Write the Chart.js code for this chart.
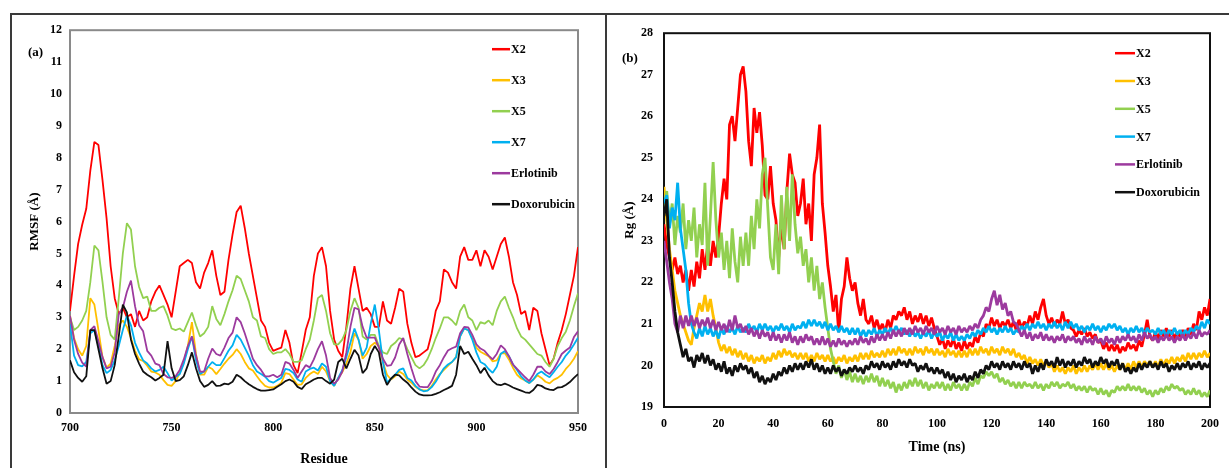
<!DOCTYPE html>
<html>
<head>
<meta charset="utf-8">
<script src="https://cdn.jsdelivr.net/npm/chart.js@4.4.1/dist/chart.umd.min.js"></script>
<style>
  html, body { margin: 0; padding: 0; background: #fff; }
  body { width: 1229px; height: 468px; position: relative; overflow: hidden; }
  .frame { position: absolute; left: 10px; top: 13px; width: 1240px; height: 470px; border-top: 2px solid #3a3a3a; border-left: 2px solid #3a3a3a; }
  .divider { position: absolute; left: 605px; top: 13px; height: 470px; border-left: 2px solid #3a3a3a; }
  canvas { position: absolute; top: 15px; }
  #rmsfChart { left: 12px; }
  #rgChart { left: 607px; }
</style>
</head>
<body>
<div class="frame"></div>
<div class="divider"></div>
<canvas id="rmsfChart" width="593" height="453"></canvas>
<canvas id="rgChart" width="622" height="453"></canvas>
<script>
// series names and colours (same in both panels)
const seriesNames = ['X2', 'X3', 'X5', 'X7', 'Erlotinib', 'Doxorubicin'];
const seriesColors = ['#ff0000', '#ffc000', '#92d050', '#00b0f0', '#9c3a9e', '#111111'];

// (a) RMSF per residue, residues 700..950 every 2
const residueStart = 700, residueStep = 2;
const rmsfX2 = [
  3.2, 4.3, 5.3, 5.9, 6.4, 7.6, 8.5, 8.4, 7.3, 6.1,
  4.6, 3.6, 3.1, 3.3, 3.0, 3.1, 2.7, 3.2, 2.9, 3.0,
  3.5, 3.8, 4.0, 3.7, 3.4, 3.0, 3.8, 4.6, 4.7, 4.8,
  4.7, 4.1, 3.9, 4.4, 4.7, 5.1, 4.3, 3.7, 3.8, 4.8,
  5.6, 6.3, 6.5, 5.8, 5.0, 4.3, 3.6, 2.9, 2.7, 2.2,
  1.95, 2.0, 2.05, 2.6, 2.2, 1.5, 1.25, 1.9, 2.6, 3.0,
  4.3, 5.0, 5.2, 4.6, 3.2, 2.3, 1.95, 1.75, 2.7, 3.9,
  4.6, 3.9, 3.2, 3.3, 3.1, 2.7, 2.7, 3.5, 2.9, 2.8,
  3.3, 3.9, 3.8, 2.8, 2.2, 1.75, 1.8, 1.9, 2.0, 2.5,
  3.2, 3.5, 4.5, 4.4, 4.1, 3.9, 4.9, 5.2, 4.8, 4.8,
  5.1, 4.6, 5.1, 4.9, 4.5, 4.9, 5.3, 5.5, 4.9, 4.1,
  3.7, 3.1, 3.2, 2.6, 3.3, 3.2, 2.5, 2.0, 1.5, 1.7,
  2.2, 2.6, 3.1, 3.7, 4.3, 5.2
];
const rmsfX3 = [
  3.05, 2.35, 2.0, 1.8, 2.1, 3.6, 3.4, 2.6, 1.75, 1.42,
  1.55, 2.1, 2.75, 2.9, 2.7, 2.35, 1.95, 1.68, 1.63, 1.48,
  1.3, 1.27, 1.2, 1.03, 0.88, 0.85, 1.0, 1.25, 1.6, 2.1,
  2.85, 1.85, 1.2, 1.2, 1.45, 1.38, 1.22, 1.38, 1.55, 1.7,
  1.82, 2.0, 1.85, 1.6, 1.4, 1.33, 1.15, 0.98, 0.85, 0.8,
  0.8, 0.85, 0.95, 1.25, 1.22, 1.05, 0.88, 0.9, 1.1, 1.22,
  1.3, 1.22, 1.45, 1.3, 1.0, 0.85, 1.1, 1.28, 1.55, 1.9,
  2.5, 2.3, 1.7, 1.85, 2.1, 2.2, 2.1, 1.6, 1.2, 1.05,
  1.15, 1.3, 1.22, 1.05, 0.95, 0.82, 0.74, 0.71, 0.71, 0.85,
  1.05, 1.22, 1.35, 1.48, 1.6, 1.75, 2.4, 2.65, 2.6, 2.35,
  2.05, 1.92, 1.85, 1.78, 1.62, 1.65, 1.86, 1.88, 1.68, 1.42,
  1.2, 1.08, 1.02, 0.94, 1.05, 1.18, 1.1, 0.98, 0.93, 1.04,
  1.1, 1.2, 1.38, 1.52, 1.7, 1.94
];
const rmsfX5 = [
  3.0, 2.6, 2.7, 2.9, 3.2, 4.1, 5.25, 5.1, 4.1, 3.0,
  2.45, 2.3, 3.6, 5.0, 5.95, 5.75, 4.6, 3.95, 3.6, 3.65,
  3.2, 3.2, 3.3, 3.35, 3.05, 2.65, 2.6, 2.65, 2.55, 2.85,
  3.15, 2.75, 2.4, 2.5, 2.7, 3.35, 2.95, 2.75, 3.1, 3.5,
  3.85, 4.3, 4.2, 3.85, 3.5, 3.0, 2.9, 2.4, 2.35, 2.0,
  1.85, 1.9, 1.9, 2.0, 1.85, 1.6, 1.6, 1.65, 2.0, 2.3,
  2.9, 3.6, 3.7, 3.2, 2.5, 2.15, 2.15, 2.3, 2.6, 3.2,
  3.6, 3.3, 2.4, 2.3, 2.45, 2.45, 2.1, 1.9, 1.85, 2.1,
  2.2, 2.35, 2.3, 2.0, 1.75, 1.5, 1.4, 1.5, 1.7, 2.0,
  2.35, 2.65, 3.0, 3.0, 2.9, 2.75, 3.2, 3.4, 3.0, 2.9,
  2.6, 2.85, 2.8, 2.9, 2.75, 3.2, 3.5, 3.65, 3.3, 3.0,
  2.65, 2.4, 2.3, 2.15, 2.0, 1.85, 1.8, 1.6, 1.45, 1.7,
  2.1, 2.35, 2.55, 2.9, 3.35, 3.75
];
const rmsfX7 = [
  2.8, 1.8, 1.5, 1.46, 1.6, 2.5, 2.6, 2.1, 1.5, 1.25,
  1.35, 1.65, 2.1, 2.6, 3.05, 2.75, 2.2, 1.9, 1.65, 1.55,
  1.4, 1.3, 1.35, 1.45, 1.25, 1.02, 1.13, 1.22, 1.55, 2.0,
  2.4, 1.65, 1.22, 1.3, 1.45, 1.6, 1.5, 1.5, 1.72, 1.95,
  2.12, 2.45, 2.3, 2.05, 1.8, 1.5, 1.3, 1.22, 1.14, 1.0,
  0.95, 1.03, 1.1, 1.38, 1.35, 1.25, 1.05, 0.98, 1.3, 1.38,
  1.42, 1.33, 1.55, 1.45, 1.0, 0.85, 1.1, 1.35, 1.75, 2.2,
  2.65, 2.3, 1.8, 2.05, 2.8, 3.4, 2.6, 1.6, 0.95, 1.08,
  1.2, 1.35, 1.4, 1.1, 1.02, 0.85, 0.74, 0.68, 0.7, 0.81,
  0.98, 1.2, 1.4, 1.52, 1.6, 1.75, 2.4, 2.65, 2.6, 2.3,
  1.9, 1.6, 1.53, 1.38, 1.26, 1.45, 1.86, 1.94, 1.78, 1.52,
  1.35, 1.15, 1.02, 0.94, 1.05, 1.22, 1.3, 1.2, 1.12, 1.28,
  1.45, 1.6, 1.8, 1.95, 2.15, 2.36
];
const rmsfErlotinib = [
  3.05, 2.3, 1.85, 1.58, 1.45, 2.6, 2.72, 2.25, 1.75, 1.4,
  1.45, 1.9, 3.1, 3.3, 3.8, 4.15, 3.35, 2.75, 2.56, 1.95,
  1.8, 1.55, 1.5, 1.22, 1.12, 1.1, 1.15, 1.35, 1.68, 2.1,
  2.4, 1.8, 1.3, 1.3, 1.7, 2.02, 1.85, 1.8, 2.05, 2.35,
  2.52, 3.0, 2.85, 2.5, 2.1, 1.7, 1.5, 1.35, 1.15, 1.15,
  1.2, 1.12, 1.2, 1.6, 1.55, 1.35, 1.1, 1.3, 1.5, 1.43,
  1.68, 2.0, 2.25, 1.8, 1.1, 0.92, 1.05, 1.3, 1.9, 2.7,
  3.3, 3.25, 2.7, 2.36, 2.36, 2.36, 2.05, 1.7, 1.48, 1.5,
  1.74, 2.15, 2.35, 1.85, 1.4, 1.0, 0.83, 0.81, 0.81, 1.0,
  1.3, 1.5, 1.75, 1.96, 2.03, 2.08, 2.5, 2.7, 2.68, 2.45,
  2.15, 2.02, 1.95, 1.8, 1.68, 1.85, 2.12, 2.0, 1.78, 1.52,
  1.38, 1.25, 1.12, 1.0, 1.2, 1.45, 1.45, 1.3, 1.22, 1.38,
  1.6, 1.85, 1.96, 2.05, 2.38, 2.56
];
const rmsfDoxorubicin = [
  1.65, 1.28, 1.1, 0.98, 1.15, 2.6, 2.6, 2.0, 1.4, 0.92,
  1.0, 1.5, 2.4, 3.4, 3.15, 2.3, 1.85, 1.55, 1.3, 1.2,
  1.12, 1.02, 1.1, 1.2, 2.25, 1.4, 1.0, 1.03, 1.15, 1.5,
  1.9, 1.4, 1.0, 0.82, 0.88, 1.0, 0.85, 0.86, 0.92, 0.9,
  0.98, 1.2, 1.12, 1.0, 0.9, 0.82, 0.75, 0.7, 0.7, 0.72,
  0.74, 0.82, 0.9, 1.0, 1.05, 0.98, 0.82, 0.75, 0.9, 0.97,
  1.05, 1.1, 1.1, 1.0, 0.92, 1.05, 1.6, 1.7, 1.4, 1.7,
  1.98, 1.8, 1.25, 1.4, 1.85, 2.1, 1.9, 1.2, 0.88, 1.08,
  1.2, 1.18, 1.05, 0.95, 0.8, 0.67, 0.58, 0.55, 0.55, 0.56,
  0.6, 0.65, 0.72, 0.78, 0.85, 1.2, 2.1, 1.85, 1.92, 1.7,
  1.5, 1.25, 1.42, 1.18, 1.0, 0.9, 0.87, 0.92, 0.87, 0.8,
  0.75, 0.7, 0.65, 0.63, 0.72, 0.88, 0.85, 0.77, 0.73, 0.72,
  0.8, 0.81, 0.88, 0.97, 1.1, 1.22
];

// (b) Rg over time, 0..200 ns every 1 ns
const timeStart = 0, timeStep = 1;
const rgX2 = [
  23.4, 22.9, 22.6, 22.3, 22.6, 22.2, 22.4, 22.0, 22.3, 21.8,
  22.3, 21.9, 22.5, 22.1, 22.8, 22.3, 22.9, 22.4, 23.0, 22.6,
  23.1, 23.9, 24.5, 24.0, 25.8, 26.0, 25.4, 26.2, 27.0, 27.2,
  26.6, 25.4, 24.8, 26.2, 25.6, 26.1, 25.3, 24.1, 24.0, 24.8,
  23.9, 23.5, 22.6, 23.4, 22.8, 24.2, 25.1, 24.6, 24.4, 23.6,
  23.9, 24.5, 23.4, 23.9, 23.0, 24.6, 25.0, 25.8, 23.9, 23.2,
  22.4, 21.9, 21.3, 21.7, 20.8, 21.6, 21.9, 22.6, 22.1, 21.8,
  22.0, 21.5, 21.2, 21.6, 21.1, 21.0, 21.2, 20.9, 21.1, 20.85,
  21.0, 20.8, 21.1, 20.9, 21.2, 21.1, 21.3, 21.2, 21.4, 21.1,
  21.3, 21.0, 21.2, 21.05, 21.25, 21.0, 21.2, 20.95, 21.15, 20.9,
  20.7, 20.5, 20.65, 20.4, 20.6, 20.45, 20.65, 20.4, 20.55, 20.35,
  20.6, 20.4, 20.55, 20.45, 20.7, 20.55, 20.8, 20.7, 21.0, 20.9,
  21.15, 20.95, 21.1, 20.9, 21.05, 20.95, 21.1, 20.9, 21.05, 20.85,
  21.1, 20.9, 21.05, 20.95, 21.2, 21.0, 21.3, 21.1, 21.4, 21.6,
  21.2, 21.0, 21.15, 20.95, 21.1, 21.0, 21.3, 21.0, 21.1, 20.9,
  20.85, 20.7, 20.85, 20.75, 20.9, 20.7, 20.8, 20.65, 20.75, 20.55,
  20.6, 20.4, 20.55, 20.35, 20.5, 20.35, 20.5, 20.3, 20.45, 20.35,
  20.55, 20.4, 20.5, 20.35, 20.6, 20.45, 20.75, 21.1, 20.7, 20.6,
  20.8, 20.65, 20.85, 20.7, 20.9, 20.7, 20.85, 20.65, 20.8, 20.7,
  20.85, 20.7, 20.9, 20.75, 21.0, 20.85, 21.3, 21.1, 21.4, 21.2,
  21.6
];
const rgX3 = [
  24.3, 23.5, 22.8, 22.3, 21.8, 21.5, 21.2, 21.0, 20.8, 20.6,
  20.5, 20.9, 21.2, 21.5, 21.3, 21.7, 21.3, 21.6, 21.2, 20.9,
  20.55, 20.35, 20.5, 20.3, 20.45, 20.25, 20.4, 20.2, 20.35, 20.15,
  20.3, 20.1, 20.25, 20.05, 20.2, 20.1, 20.25, 20.05, 20.2, 20.1,
  20.3, 20.15, 20.35, 20.2, 20.4, 20.25, 20.35, 20.2, 20.3, 20.15,
  20.3, 20.15, 20.3, 20.1, 20.25, 20.1, 20.3, 20.15, 20.25, 20.1,
  20.25, 20.1, 20.2, 20.05, 20.2, 20.1, 20.25, 20.05, 20.2, 20.1,
  20.25, 20.1, 20.3, 20.15, 20.3, 20.15, 20.35, 20.2, 20.3, 20.2,
  20.35, 20.2, 20.4, 20.25, 20.4, 20.25, 20.45, 20.3, 20.4, 20.25,
  20.4, 20.25, 20.45, 20.3, 20.4, 20.25, 20.45, 20.3, 20.4, 20.25,
  20.4, 20.25, 20.35, 20.2, 20.4, 20.25, 20.35, 20.2, 20.35, 20.2,
  20.35, 20.2, 20.4, 20.25, 20.4, 20.25, 20.45, 20.3, 20.4, 20.25,
  20.45, 20.3, 20.4, 20.25, 20.45, 20.3, 20.4, 20.25, 20.4, 20.2,
  20.3, 20.15, 20.25, 20.05, 20.2, 20.05, 20.15, 20.0, 20.15, 20.0,
  20.1, 19.95, 20.05, 19.85, 20.0, 19.85, 19.95, 19.8, 19.95, 19.85,
  20.0, 19.8, 19.95, 19.85, 20.0, 19.85, 20.0, 19.9, 20.05, 19.9,
  20.05, 19.9, 20.05, 19.9, 20.0, 19.85, 20.0, 19.9, 20.05, 19.9,
  20.05, 19.9, 20.1, 19.95, 20.1, 19.95, 20.1, 20.0, 20.1, 19.95,
  20.1, 19.95, 20.15, 20.0, 20.15, 20.05, 20.2, 20.05, 20.2, 20.1,
  20.25, 20.1, 20.3, 20.15, 20.3, 20.15, 20.3, 20.2, 20.35, 20.2,
  20.3
];
const rgX5 = [
  23.8, 24.2, 23.4, 23.9, 22.9, 23.6, 23.2, 23.9, 22.8, 23.5,
  23.0, 23.8, 22.6, 23.4, 22.9, 24.4, 22.4, 23.6, 24.9, 23.5,
  22.6, 23.2, 22.3, 23.0, 22.1, 23.3, 22.5, 22.0, 23.1, 22.4,
  23.2, 22.4, 23.6, 22.8, 24.0, 23.3, 24.6, 25.0, 23.8, 22.6,
  22.3, 23.4, 22.2, 24.1, 22.8, 24.3, 23.0, 24.6, 23.4, 22.7,
  23.1, 22.4, 22.8, 22.0, 22.6, 21.8, 22.4, 21.6, 22.0, 21.4,
  20.9, 20.4, 20.1, 19.8, 20.0, 19.7, 19.9, 19.65, 19.85, 19.6,
  19.8, 19.6, 19.75, 19.55, 19.75, 19.6, 19.8, 19.6, 19.75, 19.5,
  19.7, 19.5, 19.65, 19.45, 19.6, 19.35, 19.55, 19.4, 19.6, 19.45,
  19.65, 19.5, 19.7, 19.5, 19.65, 19.45, 19.6, 19.4, 19.55, 19.45,
  19.6, 19.45, 19.6, 19.4, 19.55, 19.4, 19.6, 19.45, 19.55, 19.4,
  19.55, 19.4, 19.6, 19.5, 19.7, 19.55, 19.75, 19.7, 19.85, 19.75,
  19.85, 19.7, 19.8, 19.6, 19.7, 19.55, 19.65, 19.5, 19.6, 19.45,
  19.6, 19.45, 19.6, 19.5, 19.55, 19.45, 19.6, 19.45, 19.55, 19.4,
  19.55, 19.45, 19.6, 19.5, 19.6, 19.45, 19.55, 19.5, 19.6, 19.45,
  19.55, 19.4, 19.5, 19.4, 19.5, 19.35, 19.5, 19.4, 19.45, 19.3,
  19.45, 19.3, 19.4, 19.25, 19.4, 19.35, 19.5, 19.4, 19.5, 19.4,
  19.55, 19.4, 19.5, 19.4, 19.5, 19.35, 19.45, 19.3, 19.4, 19.25,
  19.4, 19.3, 19.45, 19.35, 19.5, 19.4, 19.55, 19.45, 19.5, 19.4,
  19.45, 19.3, 19.4, 19.3, 19.45, 19.3, 19.4, 19.25, 19.35, 19.25,
  19.4
];
const rgX7 = [
  23.9, 24.1, 23.3, 23.8, 23.5, 24.4, 23.3, 22.8, 22.3, 21.5,
  21.0, 20.8, 20.65, 20.9, 20.7, 20.95, 20.75, 20.9, 20.7, 20.85,
  20.65, 20.9, 20.75, 20.95, 20.8, 20.9, 20.75, 20.95, 20.8, 20.9,
  20.8, 21.0, 20.85, 20.95, 20.8, 21.0, 20.85, 21.0, 20.85, 20.95,
  20.8, 20.95, 20.85, 21.0, 20.85, 20.95, 20.8, 21.0, 20.85, 20.95,
  20.9, 21.05, 20.9, 21.1, 20.95, 21.1, 20.95, 21.05, 20.9, 21.05,
  20.85, 21.0, 20.85, 20.95, 20.8, 20.95, 20.8, 20.9, 20.75, 20.9,
  20.75, 20.9, 20.7, 20.85, 20.7, 20.85, 20.75, 20.9, 20.7, 20.85,
  20.75, 20.9, 20.75, 20.9, 20.8, 20.95, 20.8, 20.9, 20.75, 20.85,
  20.7, 20.85, 20.7, 20.8, 20.65, 20.8, 20.7, 20.85, 20.65, 20.8,
  20.7, 20.8, 20.6, 20.75, 20.65, 20.8, 20.6, 20.75, 20.6, 20.7,
  20.6, 20.75, 20.65, 20.8, 20.7, 20.85, 20.75, 20.9, 20.8, 20.95,
  20.8, 20.9, 20.75, 20.9, 20.8, 20.95, 20.8, 20.9, 20.75, 20.85,
  20.8, 20.95, 20.85, 21.0, 20.85, 21.0, 20.9, 21.05, 20.9, 21.0,
  20.85, 21.0, 20.9, 21.05, 20.9, 21.0, 20.85, 21.05, 20.9, 21.05,
  20.9, 21.0, 20.85, 20.95, 20.8, 20.95, 20.85, 21.0, 20.85, 20.95,
  20.8, 20.95, 20.85, 21.0, 20.9, 21.0, 20.85, 20.95, 20.8, 20.9,
  20.75, 20.9, 20.8, 20.95, 20.8, 20.9, 20.75, 20.9, 20.8, 20.85,
  20.75, 20.9, 20.75, 20.85, 20.7, 20.85, 20.75, 20.9, 20.75, 20.85,
  20.7, 20.85, 20.75, 20.9, 20.8, 20.95, 20.85, 21.05, 20.9, 21.1,
  21.0
];
const rgErlotinib = [
  23.0, 22.5, 22.0, 21.6, 21.0, 20.8, 21.2, 20.9, 21.2, 20.95,
  21.2, 20.95, 21.15, 20.9, 21.1, 20.95, 21.15, 20.9, 21.1, 20.85,
  21.05, 20.85, 21.0, 20.8, 21.1, 20.85, 21.2, 20.9, 21.0, 20.8,
  20.95, 20.75, 20.9, 20.7, 20.85, 20.65, 20.85, 20.7, 20.8, 20.6,
  20.8, 20.6, 20.75, 20.55, 20.75, 20.6, 20.8, 20.55, 20.7, 20.5,
  20.7, 20.55, 20.75, 20.6, 20.7, 20.5, 20.65, 20.5, 20.7, 20.5,
  20.65, 20.45, 20.6, 20.45, 20.65, 20.5, 20.6, 20.45, 20.6, 20.5,
  20.65, 20.5, 20.7, 20.55, 20.65, 20.5, 20.7, 20.55, 20.75, 20.6,
  20.75, 20.6, 20.8, 20.65, 20.85, 20.7, 20.85, 20.7, 20.9, 20.75,
  20.9, 20.75, 20.95, 20.8, 20.9, 20.75, 20.95, 20.8, 20.9, 20.75,
  20.95, 20.8, 20.9, 20.75, 20.95, 20.8, 20.9, 20.75, 20.95, 20.8,
  20.9, 20.8, 20.95, 20.85, 21.0, 20.9, 21.1, 21.2, 21.4, 21.3,
  21.6, 21.8, 21.45, 21.7, 21.35, 21.5, 21.2, 21.3, 21.05, 21.0,
  20.85, 20.7, 20.85, 20.65, 20.8, 20.6, 20.75, 20.65, 20.8, 20.6,
  20.75, 20.6, 20.7, 20.55, 20.7, 20.6, 20.75, 20.55, 20.7, 20.6,
  20.7, 20.55, 20.65, 20.5, 20.7, 20.55, 20.65, 20.5, 20.7, 20.55,
  20.65, 20.5, 20.7, 20.55, 20.65, 20.5, 20.7, 20.55, 20.7, 20.6,
  20.75, 20.6, 20.7, 20.55, 20.75, 20.6, 20.8, 20.65, 20.75, 20.6,
  20.7, 20.55, 20.7, 20.6, 20.75, 20.6, 20.7, 20.55, 20.7, 20.6,
  20.75, 20.6, 20.75, 20.65, 20.8, 20.65, 20.85, 20.7, 20.8, 20.75,
  20.85
];
const rgDoxorubicin = [
  23.6, 24.0, 22.6, 22.0, 21.3, 20.8, 20.5, 20.2, 20.4, 20.1,
  20.2, 19.95, 20.25, 20.1, 20.3, 20.05, 20.25, 20.0, 20.15, 19.9,
  20.05, 19.85, 20.1, 19.8, 19.95, 19.75, 20.0, 19.85, 20.05, 19.9,
  20.0, 19.8, 19.95, 19.7, 19.85, 19.6, 19.75, 19.55, 19.7, 19.6,
  19.8, 19.65, 19.85, 19.75, 19.95, 19.8, 20.0, 19.85, 20.05, 19.9,
  20.05, 19.9, 20.1, 19.95, 20.15, 19.9, 20.05, 19.85, 20.0, 19.8,
  19.95, 19.8, 20.0, 19.85, 19.95, 19.75, 19.9, 19.8, 19.95, 19.85,
  20.0, 19.85, 19.95, 19.8, 20.0, 19.9, 20.1, 19.95, 20.05, 19.9,
  20.1, 19.95, 20.05, 19.9, 20.1, 19.95, 20.15, 20.0, 20.1, 19.95,
  20.15, 20.0, 20.05, 19.85, 20.0, 19.9, 20.05, 19.85, 19.95, 19.8,
  19.95, 19.8, 19.9, 19.7, 19.85, 19.65, 19.8, 19.6, 19.75, 19.65,
  19.8, 19.6, 19.75, 19.65, 19.85, 19.7, 19.9, 19.8, 20.0, 19.9,
  20.1, 19.95, 20.05, 19.9, 20.1, 19.95, 20.05, 19.9, 20.1, 19.95,
  20.05, 19.9, 20.1, 19.95, 20.05, 19.8, 20.0, 19.85, 20.05, 19.9,
  20.15, 20.0, 20.1, 19.95, 20.2, 20.0, 20.15, 19.95, 20.1, 20.0,
  20.15, 19.95, 20.1, 20.0, 20.2, 20.05, 20.15, 19.95, 20.1, 20.0,
  20.2, 20.05, 20.15, 19.95, 20.1, 20.0, 20.15, 19.9, 20.05, 19.85,
  19.95, 19.8, 19.95, 19.85, 20.05, 19.9, 20.05, 19.95, 20.1, 19.95,
  20.05, 19.9, 20.1, 19.95, 20.05, 19.85, 20.0, 19.9, 20.05, 19.9,
  20.05, 19.95, 20.1, 19.9, 20.05, 19.95, 20.1, 19.9, 20.05, 19.95,
  20.05
];

const rmsfSeries = [rmsfX2, rmsfX3, rmsfX5, rmsfX7, rmsfErlotinib, rmsfDoxorubicin];
const rgSeries = [rgX2, rgX3, rgX5, rgX7, rgErlotinib, rgDoxorubicin];

const serif = '"Liberation Serif", "Times New Roman", serif';

// frame round the plot area, panel tag and a vertical legend inside the plot
const panelDecor = {
  id: 'panelDecor',
  beforeDatasetsDraw(chart, args, opts) {
    const { ctx, chartArea: a } = chart;
    ctx.save();
    ctx.strokeStyle = opts.frameColor;
    ctx.lineWidth = 2;
    ctx.strokeRect(a.left, a.top, a.right - a.left, a.bottom - a.top);
    ctx.restore();
  },
  afterDraw(chart, args, opts) {
    const { ctx, chartArea: a } = chart;
    ctx.save();
    ctx.fillStyle = '#000';
    ctx.textBaseline = 'middle';
    ctx.font = 'bold 13px ' + serif;
    ctx.fillText(opts.tag, opts.tagX, a.top + opts.tagDy);
    ctx.font = 'bold 12px ' + serif;
    chart.data.datasets.forEach((ds, i) => {
      const x = a.right - opts.legendDx;
      const y = a.top + opts.legendDy + i * opts.rowGap;
      ctx.strokeStyle = ds.borderColor;
      ctx.lineWidth = 2.5;
      ctx.beginPath();
      ctx.moveTo(x, y);
      ctx.lineTo(x + opts.lineLen, y);
      ctx.stroke();
      ctx.fillText(ds.label, x + opts.lineLen + 1, y + 1);
    });
    ctx.restore();
  }
};

function buildDatasets(series, start, step, width) {
  return series.map((vals, k) => ({
    label: seriesNames[k],
    data: vals.map((v, i) => ({ x: start + i * step, y: v })),
    borderColor: seriesColors[k],
    backgroundColor: seriesColors[k],
    borderWidth: width,
    borderJoinStyle: 'bevel',
    pointRadius: 0,
    tension: 0,
    order: series.length - k
  }));
}

function axis(min, max, step, title, cfg) {
  return {
    type: 'linear',
    min: min, max: max,
    grid: { display: false, drawTicks: false },
    border: { display: false },
    ticks: { stepSize: step, padding: cfg.pad, color: '#000', font: { family: serif, size: 12, weight: 'bold' } },
    title: { display: true, text: title, color: '#000', padding: cfg.titlePad, font: { family: serif, size: cfg.titleSize, weight: 'bold' } },
    afterFit: cfg.fit
  };
}

new Chart(document.getElementById('rmsfChart'), {
  type: 'line',
  data: { datasets: buildDatasets(rmsfSeries, residueStart, residueStep, 1.8) },
  plugins: [panelDecor],
  options: {
    responsive: false,
    animation: false,
    layout: { padding: { left: 0, top: 9, right: 27, bottom: 0 } },
    plugins: {
      legend: { display: false },
      tooltip: { enabled: false },
      panelDecor: { tag: '(a)', tagX: 16, tagDy: 22, frameColor: '#8a8a8a', legendDx: 86, legendDy: 19, rowGap: 31, lineLen: 18 }
    },
    scales: {
      x: axis(700, 950, 50, 'Residue', { pad: 8, titlePad: { top: 4, bottom: 0 }, titleSize: 14, fit: s => { s.height = 55; } }),
      y: axis(0, 12, 1, 'RMSF (Å)', { pad: 8, titlePad: { top: 15, bottom: 4 }, titleSize: 13, fit: s => { s.width = 58; } })
    }
  }
});

new Chart(document.getElementById('rgChart'), {
  type: 'line',
  data: { datasets: buildDatasets(rgSeries, timeStart, timeStep, 2.8) },
  plugins: [panelDecor],
  options: {
    responsive: false,
    animation: false,
    layout: { padding: { left: 0, top: 9, right: 16, bottom: 0 } },
    plugins: {
      legend: { display: false },
      tooltip: { enabled: false },
      panelDecor: { tag: '(b)', tagX: 15, tagDy: 25, frameColor: '#111', legendDx: 95, legendDy: 20, rowGap: 27.8, lineLen: 20 }
    },
    scales: {
      x: axis(0, 200, 20, 'Time (ns)', { pad: 10, titlePad: { top: 4, bottom: 12 }, titleSize: 14, fit: s => { s.height = 61; } }),
      y: axis(19, 28, 1, 'Rg (Å)', { pad: 11, titlePad: { top: 15, bottom: 4 }, titleSize: 13, fit: s => { s.width = 57; } })
    }
  }
});
</script>
</body>
</html>
